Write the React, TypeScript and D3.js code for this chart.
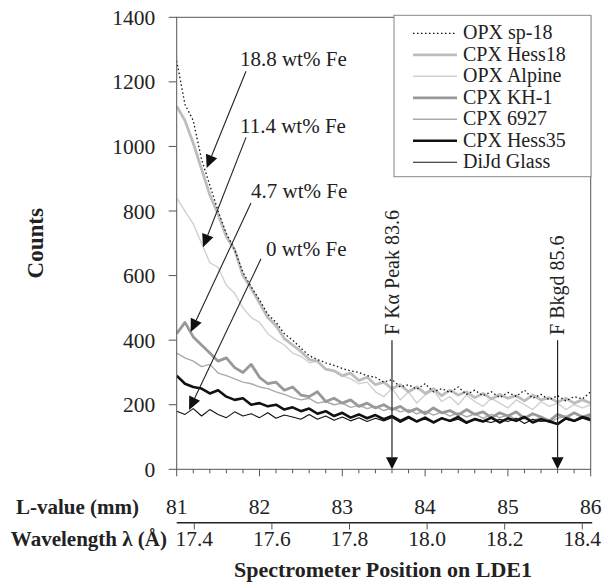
// Counts vs spectrometer position (LDE1) for pyroxene and glass standards
import React from 'react';
import * as d3 from 'd3';

// sample positions on the L-value axis (mm), 0.1 mm steps
const L_POS = [
  81.0, 81.1, 81.2, 81.3, 81.4, 81.5, 81.6, 81.7, 81.8, 81.9,
  82.0, 82.1, 82.2, 82.3, 82.4, 82.5, 82.6, 82.7, 82.8, 82.9,
  83.0, 83.1, 83.2, 83.3, 83.4, 83.5, 83.6, 83.7, 83.8, 83.9,
  84.0, 84.1, 84.2, 84.3, 84.4, 84.5, 84.6, 84.7, 84.8, 84.9,
  85.0, 85.1, 85.2, 85.3, 85.4, 85.5, 85.6, 85.7, 85.8, 85.9, 86.0,
];

const OPX_SP18 = [
  1265, 1130, 1080, 960, 880, 800, 730, 680, 610, 565,
  525, 480, 455, 420, 400, 375, 352, 340, 330, 322,
  312, 305, 300, 290, 285, 270, 278, 255, 262, 248,
  265, 240, 250, 238, 255, 232, 245, 228, 240, 222,
  238, 226, 245, 220, 232, 215, 228, 212, 225, 218, 240,
];
const CPX_HESS18 = [
  1125, 1080, 1010, 930, 850, 790, 720, 680, 600, 560,
  515, 470, 445, 405, 385, 365, 340, 335, 310, 305,
  290, 298, 275, 285, 262, 270, 250, 262, 240, 255,
  235, 250, 228, 245, 230, 240, 222, 235, 218, 232,
  220, 228, 212, 230, 215, 222, 208, 220, 205, 215, 205,
];
const OPX_ALPINE = [
  840, 800, 760, 700, 640, 625, 570, 545, 500, 470,
  455, 420, 400, 385, 360, 350, 330, 335, 310, 305,
  290, 280, 265, 270, 240, 225, 250, 215, 240, 205,
  230, 245, 210, 225, 200, 230, 210, 195, 220, 205,
  190, 215, 200, 185, 210, 195, 205, 185, 200, 190, 200,
];
const CPX_KH1 = [
  420, 455, 410, 385, 360, 335, 345, 315, 300, 325,
  285, 265, 270, 245, 255, 230, 225, 240, 210, 220,
  205, 215, 195, 205, 190, 200, 185, 195, 178, 188,
  172, 190, 175, 182, 168, 185, 170, 178, 160, 175,
  165, 178, 158, 172, 162, 150, 170, 160, 175, 162, 170,
];
const CPX_6927 = [
  360, 345, 335, 318, 325, 298, 290, 280, 270, 265,
  255, 250, 240, 232, 222, 215, 220, 205, 210, 200,
  205, 192, 198, 188, 195, 182, 190, 178, 185, 172,
  180, 168, 178, 165, 175, 162, 172, 158, 170, 160,
  168, 155, 165, 150, 162, 145, 158, 165, 152, 160, 165,
];
const CPX_HESS35 = [
  290, 265, 255, 250, 235, 245, 225, 215, 220, 200,
  205, 195, 200, 185, 192, 180, 188, 172, 180, 165,
  175, 160, 170, 158, 168, 155, 165, 150, 162, 148,
  160, 145, 158, 150, 162, 145, 155, 148, 160, 145,
  158, 150, 162, 145, 155, 148, 140, 158, 150, 162, 155,
];
const DIJD_GLASS = [
  180, 170, 188, 165, 185, 170, 160, 178, 165, 172,
  160, 175, 158, 168, 162, 155, 170, 155, 165, 152,
  162, 150, 160, 148, 158, 150, 160, 145, 158, 150,
  155, 145, 160, 148, 155, 142, 158, 150, 145, 155,
  148, 158, 142, 155, 148, 152, 140, 155, 148, 158, 150,
];

const SERIES_NAMES = ['OPX sp-18', 'CPX Hess18', 'OPX Alpine', 'CPX KH-1', 'CPX 6927', 'CPX Hess35', 'DiJd Glass'];
const SERIES_VALUES = [OPX_SP18, CPX_HESS18, OPX_ALPINE, CPX_KH1, CPX_6927, CPX_HESS35, DIJD_GLASS];

const Y_TICKS = [0, 200, 400, 600, 800, 1000, 1200, 1400];
const L_TICKS = [81, 82, 83, 84, 85, 86];
const WL_TICKS = ['17.4', '17.6', '17.8', '18.0', '18.2', '18.4'];

// Fe content annotations: label anchor, arrow start and arrow tip (L mm, counts)
const FE_LABELS = ['18.8 wt% Fe', '11.4 wt% Fe', '4.7 wt% Fe', '0 wt% Fe'];
const FE_LABEL_AT = [[81.764, 1249], [81.764, 1041], [81.897, 840], [82.078, 661]];
const FE_ARROW_FROM = [[81.837, 1233], [81.837, 1028], [81.897, 825], [82.018, 652]];
const FE_ARROW_TO = [[81.362, 933], [81.318, 688], [81.169, 425], [81.149, 184]];

// spectrometer positions marked on the plot
const MARKER_L = [83.6, 85.6];
const MARKER_LABELS = ['F K\u03b1 Peak 83.6', 'F Bkgd 85.6'];

const STYLES = [
  { stroke: '#111', width: 1.3, dash: '1.5,2.5' },
  { stroke: '#bdbdbd', width: 2.8, dash: null },
  { stroke: '#d0d0d0', width: 1.4, dash: null },
  { stroke: '#999', width: 2.8, dash: null },
  { stroke: '#aaa', width: 1.4, dash: null },
  { stroke: '#111', width: 2.6, dash: null },
  { stroke: '#111', width: 1.1, dash: null },
];
const DRAW_ORDER = [2, 4, 1, 3, 5, 6, 0];

const FONT = 'Liberation Serif, Times New Roman, Times, DejaVu Serif, serif';

function arrowHead(x1: number, y1: number, x2: number, y2: number, len = 12, half = 5.5) {
  const a = Math.atan2(y2 - y1, x2 - x1);
  const bx = x2 - len * Math.cos(a);
  const by = y2 - len * Math.sin(a);
  const px = half * Math.sin(a);
  const py = -half * Math.cos(a);
  return { bx, by, points: `${x2},${y2} ${bx + px},${by + py} ${bx - px},${by - py}` };
}

export default function App() {
  const W = 608;
  const H = 583;
  const x = d3.scaleLinear().domain([81, 86]).range([176.7, 590.7]);
  const y = d3.scaleLinear().domain([0, 1400]).range([469.3, 17.3]);
  const wl = d3.scaleLinear().domain([17.4, 18.4]).range([194.3, 582.3]);

  const line = d3.line<number>()
    .x((_, i) => x(L_POS[i]))
    .y(d => y(d));

  const minorL = d3.range(81, 86.001, 0.2);
  const [x0, x1] = x.range();
  const [y0, y1] = y.range();

  return (
    <svg width={W} height={H} style={{ position: 'absolute', left: 0, top: 0, background: '#fff' }}>
      <defs>
        <clipPath id="plot">
          <rect x={x0} y={y1} width={x1 - x0} height={y0 - y1} />
        </clipPath>
      </defs>
      <g fontFamily={FONT} fill="#222">

      {/* series */}
      <g clipPath="url(#plot)">
        {DRAW_ORDER.map(i => (
          <path key={i} d={line(SERIES_VALUES[i]) || ''} fill="none"
            stroke={STYLES[i].stroke} strokeWidth={STYLES[i].width}
            strokeDasharray={STYLES[i].dash || undefined} strokeLinejoin="round" />
        ))}
      </g>

      {/* frame */}
      <rect x={x0} y={y1} width={x1 - x0} height={y0 - y1} fill="none" stroke="#555" strokeWidth={1} />

      {/* y axis */}
      {Y_TICKS.map(t => (
        <g key={t}>
          <line x1={x0 - 8} x2={x0} y1={y(t)} y2={y(t)} stroke="#555" />
          <text x={x0 - 21.5} y={y(t)} dy="0.35em" textAnchor="end" fontSize={21.5}>{t}</text>
        </g>
      ))}
      <text transform={`translate(43,${(y0 + y1) / 2}) rotate(-90)`} textAnchor="middle"
        fontSize={23} fontWeight="bold">Counts</text>

      {/* L-value axis */}
      {minorL.map((t, i) => (
        <line key={i} x1={x(t)} x2={x(t)} y1={y0} y2={y0 + (i % 5 === 0 ? 7 : 4)} stroke="#555" />
      ))}
      {L_TICKS.map(t => (
        <text key={t} x={x(t)} y={514} textAnchor="middle" fontSize={21.5}>{t}</text>
      ))}
      <text x={139} y={514} textAnchor="end" fontSize={21} fontWeight="bold">L-value (mm)</text>

      {/* wavelength axis */}
      <line x1={x0} x2={x1 + 1.5} y1={522.7} y2={522.7} stroke="#222" strokeWidth={1.4} />
      {WL_TICKS.map(t => (
        <g key={t}>
          <line x1={wl(+t)} x2={wl(+t)} y1={522.7} y2={529.5} stroke="#555" />
          <text x={wl(+t)} y={546} textAnchor="middle" fontSize={21.5}>{t}</text>
        </g>
      ))}
      <text x={167} y={546} textAnchor="end" fontSize={21} fontWeight="bold">{'Wavelength \u03bb (\u00c5)'}</text>

      <text x={383} y={577} textAnchor="middle" fontSize={22} fontWeight="bold">Spectrometer Position on LDE1</text>

      {/* peak / background markers */}
      {MARKER_L.map((m, i) => {
        const mx = x(m);
        const h = arrowHead(mx, y(400), mx, y0, 12, 6);
        return (
          <g key={m}>
            <line x1={mx} x2={mx} y1={y(400)} y2={h.by} stroke="#222" strokeWidth={1.2} />
            <polygon points={h.points} fill="#111" />
            <text transform={`translate(${mx},${y(416)}) rotate(-90)`} dy="0.33em"
              fontSize={20}>{MARKER_LABELS[i]}</text>
          </g>
        );
      })}

      {/* Fe annotations */}
      {FE_LABELS.map((lab, i) => {
        const ax1 = x(FE_ARROW_FROM[i][0]);
        const ay1 = y(FE_ARROW_FROM[i][1]);
        const ax2 = x(FE_ARROW_TO[i][0]);
        const ay2 = y(FE_ARROW_TO[i][1]);
        const h = arrowHead(ax1, ay1, ax2, ay2, 13, 6);
        return (
          <g key={lab}>
            <text x={x(FE_LABEL_AT[i][0])} y={y(FE_LABEL_AT[i][1])} fontSize={21}>{lab}</text>
            <line x1={ax1} y1={ay1} x2={h.bx} y2={h.by} stroke="#222" strokeWidth={1.1} />
            <polygon points={h.points} fill="#111" />
          </g>
        );
      })}

      {/* legend */}
      <g>
        <rect x={394} y={15.3} width={197} height={161.4} fill="#fff" stroke="#888" strokeWidth={1} />
        {SERIES_NAMES.map((name, i) => {
          const by = 39.3 + i * 21.5;
          return (
            <g key={name}>
              <line x1={413} x2={457} y1={by - 6} y2={by - 6} stroke={STYLES[i].stroke}
                strokeWidth={STYLES[i].width} strokeDasharray={STYLES[i].dash || undefined} />
              <text x={463} y={by} fontSize={20}>{name}</text>
            </g>
          );
        })}
      </g>
      </g>
    </svg>
  );
}
